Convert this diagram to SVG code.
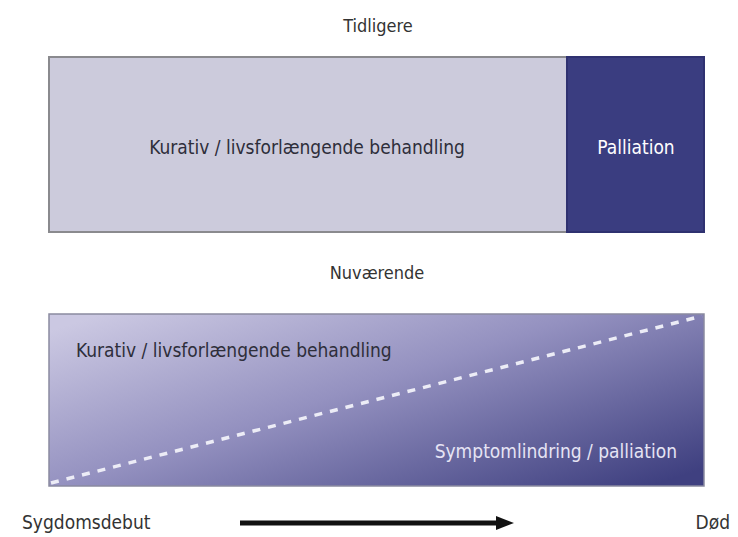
<svg xmlns="http://www.w3.org/2000/svg" width="738" height="537" viewBox="0 0 738 537">
<style>
text{font-family:"Liberation Sans Narrow","DejaVu Sans Condensed","Liberation Sans",sans-serif;font-stretch:condensed;}
.lbl{font-size:19px;fill:#2e2e3a;}
.ttl{font-size:18px;fill:#333;}
</style>
<defs>
<linearGradient id="g" x1="0" y1="0.1" x2="1" y2="0.9" gradientUnits="objectBoundingBox">
<stop offset="0" stop-color="#cbc8e2"/>
<stop offset="0.45" stop-color="#9491c0"/>
<stop offset="1" stop-color="#3f4080"/>
</linearGradient>
</defs>
<rect width="738" height="537" fill="#fff"/>
<text class="ttl" x="378" y="32" text-anchor="middle">Tidligere</text>
<g id="kurativ-tidligere">
<rect x="49" y="57" width="518" height="175" fill="#cccbdc" stroke="#8a8a8e" stroke-width="2"/>
<text class="lbl" x="307" y="154" text-anchor="middle">Kurativ / livsforlængende behandling</text>
</g>
<g id="palliation-tidligere">
<rect x="567" y="57" width="137" height="175" fill="#3a3d80" stroke="#2f3170" stroke-width="2"/>
<text class="lbl" x="636" y="154" text-anchor="middle" style="fill:#fff">Palliation</text>
</g>
<text class="ttl" x="377" y="279" text-anchor="middle">Nuværende</text>
<g id="nuvaerende">
<rect x="49" y="314" width="655" height="172" fill="url(#g)" stroke="#8a8aa0" stroke-width="1.5"/>
<text class="lbl" x="76" y="357">Kurativ / livsforlængende behandling</text>
<text class="lbl" x="677" y="458" text-anchor="end" style="fill:#e6e4f4">Symptomlindring / palliation</text>
</g>
<g id="connectors">
<line x1="51" y1="483" x2="702" y2="316" stroke="#ececf6" stroke-width="3.5" stroke-dasharray="8,8"/>
<line x1="240" y1="523" x2="500" y2="523" stroke="#111" stroke-width="5"/>
<path d="M496,516 L514,523 L496,530 Z" fill="#111"/>
</g>
<text class="lbl" x="22" y="529" style="fill:#333">Sygdomsdebut</text>
<text class="lbl" x="730" y="529" text-anchor="end" style="fill:#333">Død</text>
</svg>
